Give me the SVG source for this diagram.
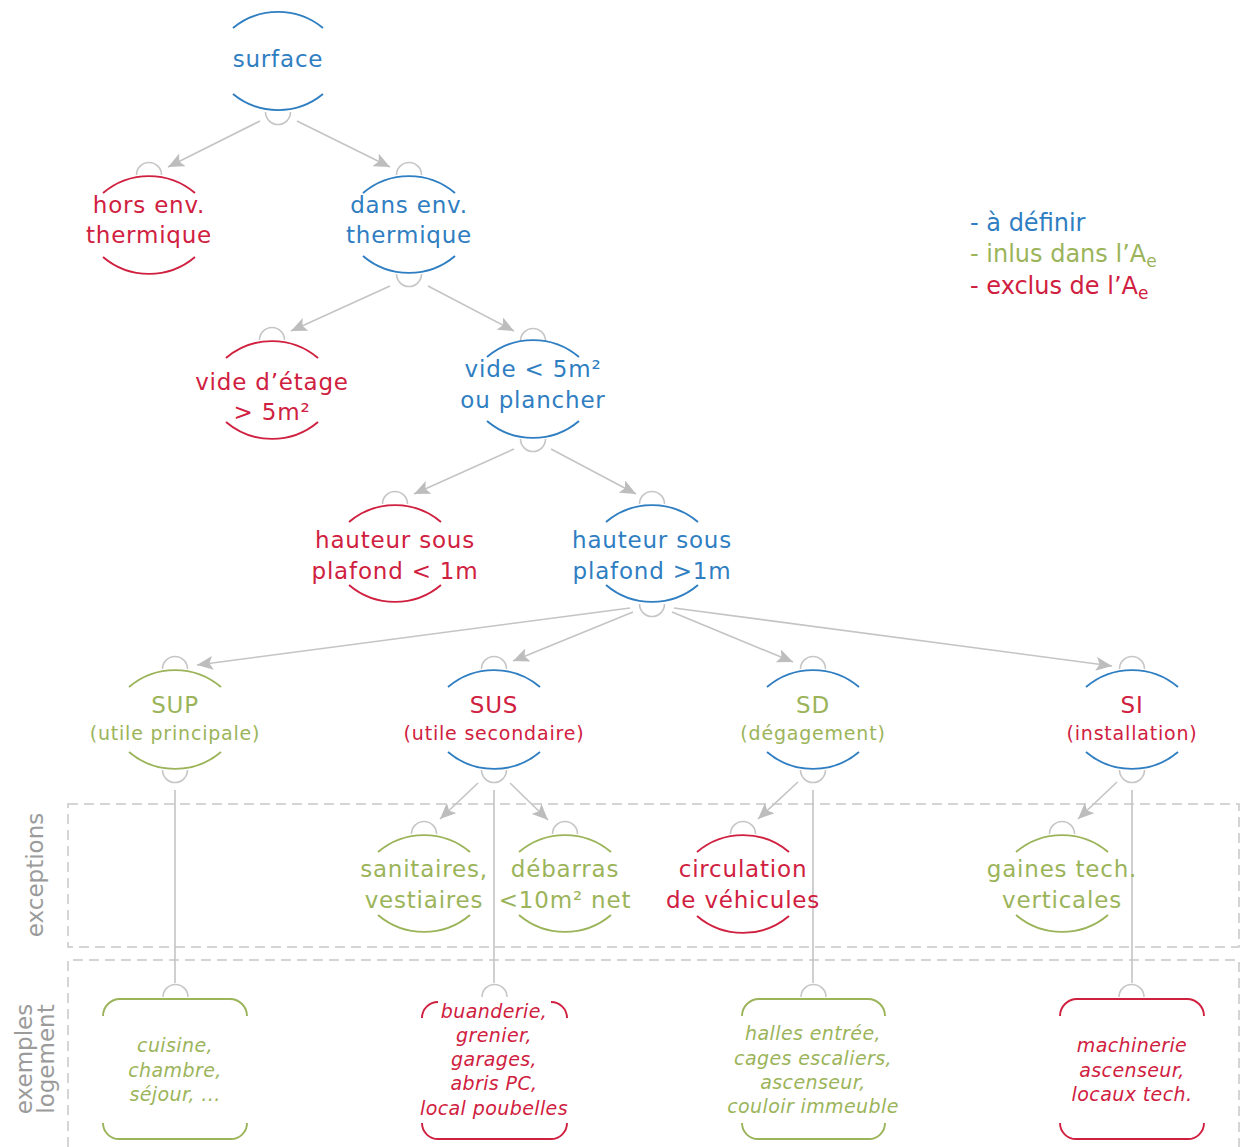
<svg xmlns="http://www.w3.org/2000/svg" width="1241" height="1147" viewBox="0 0 1241 1147">
<style>
text{font-family:"DejaVu Sans","Liberation Sans",sans-serif;text-anchor:middle}
.t{font-size:23px;letter-spacing:0.8px}
.s{font-size:19px;letter-spacing:0.8px}
.i{font-size:19px;font-style:italic;letter-spacing:0.4px}
.lg{font-size:24px;text-anchor:start}
.side{font-size:23px;fill:#9b9b9b}
.blue{fill:#2f7ec2}.red{fill:#d02040}.green{fill:#9bb45a}
.ab{fill:none;stroke:#2f7ec2;stroke-width:1.9}
.ar{fill:none;stroke:#d02040;stroke-width:1.9}
.ag{fill:none;stroke:#9bb45a;stroke-width:1.9}
.port{fill:none;stroke:#c6c6c6;stroke-width:1.6}
.conn{fill:none;stroke:#c4c4c4;stroke-width:1.6}
.arr{marker-end:url(#ah)}
.dash{fill:none;stroke:#c8c8c8;stroke-width:1.5;stroke-dasharray:10 6}
</style>
<defs>
<marker id="ah" viewBox="0 0 16 14" refX="16" refY="7" markerWidth="16" markerHeight="14" markerUnits="userSpaceOnUse" orient="auto">
<path d="M0,0 L16,7 L0,14 L3.5,7 z" fill="#bdbdbd"/>
</marker>
</defs>

<g id="zones">
<rect class="dash" x="68" y="804" width="1171" height="143"/>
<path class="dash" d="M68,1147 V960 H1239 V1147"/>
<text class="side" transform="translate(43,875) rotate(-90)">exceptions</text>
<text class="side" transform="translate(32,1059) rotate(-90)">exemples</text>
<text class="side" transform="translate(54,1059) rotate(-90)">logement</text>
</g>

<g id="legend">
<text class="lg blue" x="970" y="231">- à définir</text>
<text class="lg green" x="970" y="262">- inlus dans l’A<tspan font-size="17" dy="5">e</tspan></text>
<text class="lg red" x="970" y="294">- exclus de l’A<tspan font-size="17" dy="5">e</tspan></text>
</g>

<g id="connectors">
<path class="conn arr" d="M260,121 L168,167"/>
<path class="conn arr" d="M297,121 L390,167"/>
<path class="conn arr" d="M390,286 L291,331"/>
<path class="conn arr" d="M428,286 L514,331"/>
<path class="conn arr" d="M514,449 L414,494"/>
<path class="conn arr" d="M551,449 L636,494"/>
<path class="conn arr" d="M630,608 L197,665"/>
<path class="conn arr" d="M633,612 L513,661"/>
<path class="conn arr" d="M672,612 L793,662"/>
<path class="conn arr" d="M674,608 L1112,666"/>
<path class="conn arr" d="M478,783 L440,819"/>
<path class="conn arr" d="M510,783 L548,820"/>
<path class="conn arr" d="M798,782 L758,819"/>
<path class="conn arr" d="M1117,782 L1078,819"/>
<path class="conn" d="M175,790 V983"/>
<path class="conn" d="M494,790 V983"/>
<path class="conn" d="M813,790 V983"/>
<path class="conn" d="M1132,790 V983"/>
</g>

<g id="n-surface">
<path class="ab" d="M233,28 A71 71 0 0 1 323,28"/>
<path class="ab" d="M233,94 A71 71 0 0 0 323,94"/>
<text class="t blue" x="278" y="67">surface</text>
<path class="port" d="M265.5,112 A12.5 12.5 0 0 0 290.5,112"/>
</g>

<g id="n-hors">
<path class="port" d="M136.5,175 A12.5 12.5 0 0 1 161.5,175"/>
<path class="ar" d="M103,193 A71 71 0 0 1 195,193"/>
<path class="ar" d="M103,257 A71 71 0 0 0 195,257"/>
<text class="t red" x="149" y="213">hors env.</text>
<text class="t red" x="149" y="243">thermique</text>
</g>

<g id="n-dans">
<path class="port" d="M396.5,175 A12.5 12.5 0 0 1 421.5,175"/>
<path class="ab" d="M363,193 A71 71 0 0 1 455,193"/>
<path class="ab" d="M363,256 A71 71 0 0 0 455,256"/>
<text class="t blue" x="409" y="213">dans env.</text>
<text class="t blue" x="409" y="243">thermique</text>
<path class="port" d="M396.5,274 A12.5 12.5 0 0 0 421.5,274"/>
</g>

<g id="n-vide-etage">
<path class="port" d="M259.5,340 A12.5 12.5 0 0 1 284.5,340"/>
<path class="ar" d="M226,358 A71 71 0 0 1 318,358"/>
<path class="ar" d="M226,422 A71 71 0 0 0 318,422"/>
<text class="t red" x="272" y="390">vide d’étage</text>
<text class="t red" x="272" y="420">&gt; 5m²</text>
</g>

<g id="n-vide-plancher">
<path class="port" d="M520.5,341 A12.5 12.5 0 0 1 545.5,341"/>
<path class="ab" d="M487,357 A71 71 0 0 1 579,357"/>
<path class="ab" d="M487,421 A71 71 0 0 0 579,421"/>
<text class="t blue" x="533" y="377">vide &lt; 5m²</text>
<text class="t blue" x="533" y="408">ou plancher</text>
<path class="port" d="M520.5,439 A12.5 12.5 0 0 0 545.5,439"/>
</g>

<g id="n-hauteur-moins">
<path class="port" d="M382.5,504 A12.5 12.5 0 0 1 407.5,504"/>
<path class="ar" d="M349,522 A71 71 0 0 1 441,522"/>
<path class="ar" d="M349,585 A71 71 0 0 0 441,585"/>
<text class="t red" x="395" y="548">hauteur sous</text>
<text class="t red" x="395" y="579">plafond &lt; 1m</text>
</g>

<g id="n-hauteur-plus">
<path class="port" d="M639.5,504 A12.5 12.5 0 0 1 664.5,504"/>
<path class="ab" d="M606,522 A71 71 0 0 1 698,522"/>
<path class="ab" d="M606,585 A71 71 0 0 0 698,585"/>
<text class="t blue" x="652" y="548">hauteur sous</text>
<text class="t blue" x="652" y="579">plafond &gt;1m</text>
<path class="port" d="M639.5,604 A12.5 12.5 0 0 0 664.5,604"/>
</g>

<g id="n-sup">
<path class="port" d="M162.5,669 A12.5 12.5 0 0 1 187.5,669"/>
<path class="ag" d="M129,687 A71 71 0 0 1 221,687"/>
<path class="ag" d="M129,752 A71 71 0 0 0 221,752"/>
<text class="t green" x="175" y="713">SUP</text>
<text class="s green" x="175" y="740">(utile principale)</text>
<path class="port" d="M162.5,770 A12.5 12.5 0 0 0 187.5,770"/>
</g>

<g id="n-sus">
<path class="port" d="M481.5,669 A12.5 12.5 0 0 1 506.5,669"/>
<path class="ab" d="M448,687 A71 71 0 0 1 540,687"/>
<path class="ab" d="M448,752 A71 71 0 0 0 540,752"/>
<text class="t red" x="494" y="713">SUS</text>
<text class="s red" x="494" y="740">(utile secondaire)</text>
<path class="port" d="M481.5,770 A12.5 12.5 0 0 0 506.5,770"/>
</g>

<g id="n-sd">
<path class="port" d="M800.5,669 A12.5 12.5 0 0 1 825.5,669"/>
<path class="ab" d="M767,687 A71 71 0 0 1 859,687"/>
<path class="ab" d="M767,752 A71 71 0 0 0 859,752"/>
<text class="t green" x="813" y="713">SD</text>
<text class="s green" x="813" y="740">(dégagement)</text>
<path class="port" d="M800.5,770 A12.5 12.5 0 0 0 825.5,770"/>
</g>

<g id="n-si">
<path class="port" d="M1119.5,669 A12.5 12.5 0 0 1 1144.5,669"/>
<path class="ab" d="M1086,687 A71 71 0 0 1 1178,687"/>
<path class="ab" d="M1086,752 A71 71 0 0 0 1178,752"/>
<text class="t red" x="1132" y="713">SI</text>
<text class="s red" x="1132" y="740">(installation)</text>
<path class="port" d="M1119.5,770 A12.5 12.5 0 0 0 1144.5,770"/>
</g>

<g id="n-sanitaires">
<path class="port" d="M411.5,834 A12.5 12.5 0 0 1 436.5,834"/>
<path class="ag" d="M378,852 A71 71 0 0 1 470,852"/>
<path class="ag" d="M378,915 A71 71 0 0 0 470,915"/>
<text class="t green" x="424" y="877">sanitaires,</text>
<text class="t green" x="424" y="908">vestiaires</text>
</g>

<g id="n-debarras">
<path class="port" d="M552.5,834 A12.5 12.5 0 0 1 577.5,834"/>
<path class="ag" d="M519,852 A71 71 0 0 1 611,852"/>
<path class="ag" d="M519,915 A71 71 0 0 0 611,915"/>
<text class="t green" x="565" y="877">débarras</text>
<text class="t green" x="565" y="908">&lt;10m² net</text>
</g>

<g id="n-circulation">
<path class="port" d="M730.5,834 A12.5 12.5 0 0 1 755.5,834"/>
<path class="ar" d="M697,852 A71 71 0 0 1 789,852"/>
<path class="ar" d="M697,916 A71 71 0 0 0 789,916"/>
<text class="t red" x="743" y="877">circulation</text>
<text class="t red" x="743" y="908">de véhicules</text>
</g>

<g id="n-gaines">
<path class="port" d="M1049.5,834 A12.5 12.5 0 0 1 1074.5,834"/>
<path class="ag" d="M1016,852 A71 71 0 0 1 1108,852"/>
<path class="ag" d="M1016,915 A71 71 0 0 0 1108,915"/>
<text class="t green" x="1062" y="877">gaines tech.</text>
<text class="t green" x="1062" y="908">verticales</text>
</g>

<g id="b-sup">
<path class="port" d="M163,997 A12.5 12.5 0 0 1 188,997"/>
<path class="ag" d="M103,1016 A17 17 0 0 1 120,999 H230 A17 17 0 0 1 247,1016"/>
<path class="ag" d="M103,1123 A16 16 0 0 0 119,1139 H231 A16 16 0 0 0 247,1123"/>
<text class="i green" x="175" y="1052">cuisine,</text>
<text class="i green" x="175" y="1077">chambre,</text>
<text class="i green" x="175" y="1101">séjour, ...</text>
</g>

<g id="b-sus">
<path class="port" d="M482,997 A12.5 12.5 0 0 1 507,997"/>
<path class="ar" d="M422,1018 A16 16 0 0 1 438,1002"/>
<path class="ar" d="M551,1002 A16 16 0 0 1 567,1018"/>
<path class="ar" d="M422,1123 A16 16 0 0 0 438,1139 H551 A16 16 0 0 0 567,1123"/>
<text class="i red" x="494" y="1018">buanderie,</text>
<text class="i red" x="494" y="1042">grenier,</text>
<text class="i red" x="494" y="1066">garages,</text>
<text class="i red" x="494" y="1090">abris PC,</text>
<text class="i red" x="494" y="1115">local poubelles</text>
</g>

<g id="b-sd">
<path class="port" d="M801,997 A12.5 12.5 0 0 1 826,997"/>
<path class="ag" d="M742,1016 A17 17 0 0 1 759,999 H868 A17 17 0 0 1 885,1016"/>
<path class="ag" d="M742,1123 A16 16 0 0 0 758,1139 H869 A16 16 0 0 0 885,1123"/>
<text class="i green" x="813" y="1040">halles entrée,</text>
<text class="i green" x="813" y="1065">cages escaliers,</text>
<text class="i green" x="813" y="1089">ascenseur,</text>
<text class="i green" x="813" y="1113">couloir immeuble</text>
</g>

<g id="b-si">
<path class="port" d="M1119,997 A12.5 12.5 0 0 1 1144,997"/>
<path class="ar" d="M1060,1016 A17 17 0 0 1 1077,999 H1187 A17 17 0 0 1 1204,1016"/>
<path class="ar" d="M1060,1123 A16 16 0 0 0 1076,1139 H1188 A16 16 0 0 0 1204,1123"/>
<text class="i red" x="1132" y="1052">machinerie</text>
<text class="i red" x="1132" y="1077">ascenseur,</text>
<text class="i red" x="1132" y="1101">locaux tech.</text>
</g>
</svg>
